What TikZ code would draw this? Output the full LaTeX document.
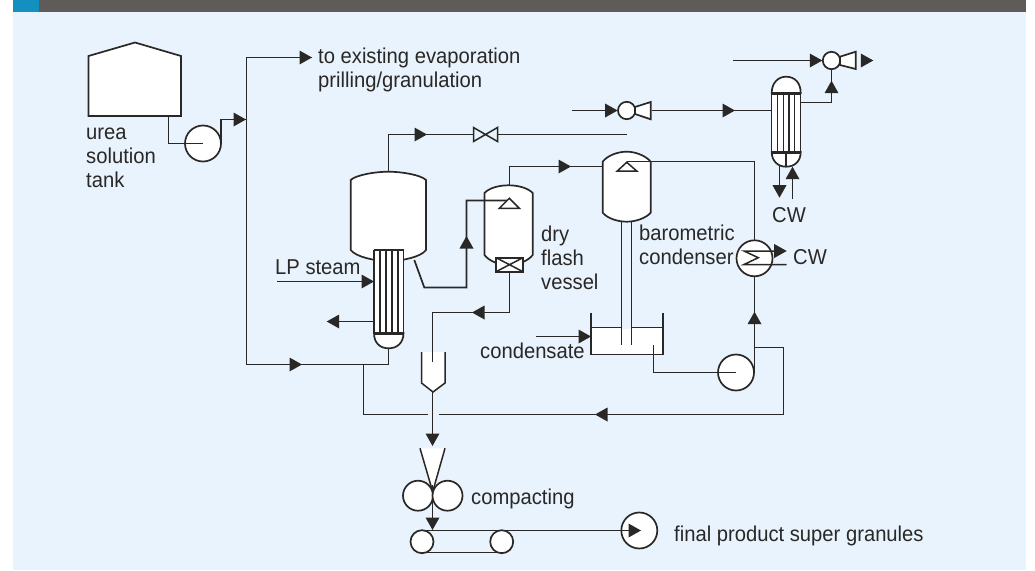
\documentclass[tikz,border=0pt]{standalone}
\usepackage{fontspec}
\setmainfont[FakeStretch=0.94]{Liberation Sans}
\definecolor{bgblue}{HTML}{E8F3FD}
\definecolor{barblue}{HTML}{1490C0}
\definecolor{bargray}{HTML}{5F5B58}
\definecolor{ink}{HTML}{2A2826}
\tikzset{
  pipe/.style={draw=ink,line width=1.7pt,line join=miter},
  vessel/.style={draw=ink,line width=1.7pt,fill=white},
  tube/.style={draw=ink,line width=1.5pt},
  plate/.style={draw=ink,line width=2.6pt},
  head/.style={fill=ink,draw=none},
  lbl/.style={font=\fontsize{21.5}{24}\selectfont,text=ink,inner sep=0pt,anchor=base west,align=left},
  ring/.style={circle,draw=ink,line width=1.7pt,fill=white,inner sep=0pt,minimum size=#1},
}
\newcommand{\hR}[2]{\fill[head] (#1,#2) -- ++(-12.5,-7) -- ++(0,14) -- cycle;}
\newcommand{\hL}[2]{\fill[head] (#1,#2) -- ++(12.5,-7) -- ++(0,14) -- cycle;}
\newcommand{\hU}[2]{\fill[head] (#1,#2) -- ++(-7,12.5) -- ++(14,0) -- cycle;}
\newcommand{\hD}[2]{\fill[head] (#1,#2) -- ++(-7,-12.5) -- ++(14,0) -- cycle;}
\begin{document}
\begin{tikzpicture}[x=1pt,y=-1pt]
\useasboundingbox (0,0) rectangle (1035,570);
\fill[white] (0,0) rectangle (1035,570);
\fill[bgblue] (13,12) rectangle (1026,570);
\fill[barblue] (13,0) rectangle (39,12);
\fill[bargray] (39,0) rectangle (1026,12);

% --- urea tank, feed pump, main header
\draw[vessel] (88.5,56) -- (135,42.5) -- (181,56) -- (181,116) -- (88.5,116) -- cycle;
\coordinate (tankout) at (168.5,116);
\coordinate (headtop) at (246.5,57.5);
\coordinate (headtee) at (246.5,119.5);
\coordinate (headbot) at (246.5,364.5);
\coordinate (toexist) at (312,57.5);
\node[ring=36pt] (pumpA) at (203,143.5) {};
\draw[pipe] (tankout) |- (pumpA.center);
\draw[pipe] (221,143.5) |- (headtee);
\hR{246}{119.5}
\draw[pipe] (toexist) -- (headtop) -- (headbot);
\hR{312}{57.5}

% --- evaporator
\draw[vessel] (350.7,180) .. controls (356,175) and (375,171.7) .. (388.3,171.7) .. controls (402,171.7) and (421,175) .. (426,180)
  -- (426,250) .. controls (421,257) and (402,261) .. (388.3,261) .. controls (375,261) and (356,257) .. (350.7,250) -- cycle;
\draw[vessel] (374,333) .. controls (374,343) and (380,348.3) .. (388.7,348.3) .. controls (397,348.3) and (403.5,343) .. (403.5,333) -- cycle;
\fill[white] (374,250) rectangle (403.5,333);
\foreach \x in {374,380,386,392,398,403.5} \draw[tube] (\x,250) -- (\x,333);
\draw[plate] (373.5,250) -- (404,250);
\draw[plate] (373.5,333.3) -- (404,333.3);
\coordinate (evaptop) at (388.5,171.7);
\coordinate (evapcorner) at (388.5,134.5);
\coordinate (evapend) at (626.7,134.5);
\coordinate (evapbot) at (388.5,348.3);
\coordinate (evapside) at (414.3,260);
\coordinate (steamin) at (277.3,281.5);
\coordinate (steamout) at (374,281.5);
\coordinate (condout) at (374,321.5);
\coordinate (condend) at (330,321.5);
\draw[pipe] (evaptop) -- (evapcorner) -- (evapend);
\hR{427}{134.5}
\draw[draw=ink,line width=1.5pt,fill=bgblue] (473.5,127.5) -- (497.5,141.5) -- (497.5,127.5) -- (473.5,141.5) -- cycle;
\draw[pipe] (steamin) -- (steamout);
\hR{374}{281.5}
\draw[pipe] (condout) -- (condend);
\hL{326.7}{321.5}
\coordinate (branch) at (363.5,364.5);
\coordinate (ringSW) at (363.5,414.5);
\coordinate (ringSE) at (783.5,414.5);
\coordinate (ringNE) at (783.5,347.5);
\coordinate (ringNW) at (754.5,347.5);
\draw[pipe] (headbot) -- (388.5,364.5) -- (evapbot);
\hR{302}{364.5}
\draw[pipe] (branch) -- (ringSW) -- (427.5,414.5);
\draw[pipe] (438.5,414.5) -- (ringSE) -- (ringNE) -- (ringNW);
\hL{595}{414.5}

% --- dry flash vessel
\draw[vessel] (484.5,193) .. controls (489,188) and (499,185.3) .. (508.6,185.3) .. controls (518,185.3) and (528,188) .. (532.7,193)
  -- (532.7,255) .. controls (528,261) and (518,265) .. (508.6,265) .. controls (499,265) and (489,261) .. (484.5,255) -- cycle;
\draw[pipe] (evapside) -- (424.3,287.5) -- (466.5,287.5) -- (466.5,200.5) -- (509.3,200.5);
\hU{466.5}{236}
\draw[draw=ink,line width=1.5pt,fill=white] (499.3,208.3) -- (509.3,198.3) -- (519.3,208.3) -- cycle;
\draw[vessel] (496,257.7) rectangle (523,271.7);
\draw[tube] (496,257.7) -- (523,271.7) (496,271.7) -- (523,257.7);
\coordinate (flashtop) at (509.5,185.3);
\coordinate (flashbot) at (509.5,271.7);
\coordinate (dropA) at (509.5,312.5);
\coordinate (dropB) at (432.5,312.5);
\coordinate (dropC) at (432.5,361.7);
\coordinate (condin) at (602.7,166.5);
\draw[pipe] (flashtop) |- (condin);
\hR{571}{166.5}
\fill[white] (421.5,352) -- (445,352) -- (445,383) -- (433,392) -- (421.5,383) -- cycle;
\draw[draw=ink,line width=1.5pt] (421.5,352) -- (421.5,383) -- (433,392) -- (445,383) -- (445,352);
\draw[pipe] (flashbot) -- (dropA) -- (dropB) -- (dropC);
\hL{472}{312.5}

% --- barometric condenser
\draw[vessel] (602.7,161.7) .. controls (607,156) and (617,151.7) .. (626.7,151.7) .. controls (636,151.7) and (646,156) .. (650.7,161.7)
  -- (650.7,212.7) .. controls (646,218) and (636,221.7) .. (626.7,221.7) .. controls (617,221.7) and (607,218) .. (602.7,212.7) -- cycle;
\draw[pipe] (626.7,161.5) -- (754.5,161.5) -- (754.5,240);
\draw[draw=ink,line width=1.5pt,fill=white] (617.3,171) -- (626.7,162.3) -- (636.7,171) -- cycle;
\fill[white] (591,327.3) rectangle (662.7,354.3);
\fill[bgblue] (621.7,327) rectangle (631.7,329);
\draw[pipe] (591,312.7) -- (591,354.5) -- (662.7,354.5) -- (662.7,312.7);
\draw[tube] (591,327.5) -- (621.7,327.5) (631.7,327.5) -- (662.7,327.5);
\draw[tube] (621.5,221.7) -- (621.5,345) (631.5,221.7) -- (631.5,345);
\coordinate (condensin) at (536,336.5);
\draw[pipe] (condensin) -- (590,336.5);
\hR{591}{336.5}

% --- circulation pump and cooler
\node[ring=36pt] (pumpB) at (736,372.5) {};
\node[ring=36pt] (coolr) at (754.5,258.3) {};
\draw[pipe] (pumpB.center) -- (653.5,372.5) -- (653.5,345);
\draw[pipe] (754.5,372.5) -- (coolr.south);
\hU{754.5}{311.7}
\draw[tube] (775,251) -- (744,251) -- (758.3,257.7) -- (744,264.5) -- (786.7,264.5);
\hR{786.7}{251}

% --- vacuum ejector stage 1
\coordinate (ej1in) at (571.7,110.5);
\coordinate (ej1out) at (651.7,110.5);
\coordinate (hxin) at (771.7,110.5);
\node[ring=17.4pt] (ej1) at (626.7,110.5) {};
\draw[pipe] (ej1in) -- (ej1.west);
\hR{617.6}{110.5}
\draw[vessel] (635,107) -- (650.7,102) -- (650.7,119.3) -- (635,114) -- cycle;
\draw[pipe] (ej1out) -- (hxin);
\hR{735}{110.5}

% --- small condenser
\draw[vessel] (771.7,93) .. controls (771.7,83) and (778,76.7) .. (786,76.7) .. controls (795,76.7) and (800.7,83) .. (800.7,93) -- cycle;
\draw[vessel] (771.7,152) .. controls (771.7,161) and (778,166.7) .. (786,166.7) .. controls (795,166.7) and (800.7,161) .. (800.7,152) -- cycle;
\fill[white] (771.7,93) rectangle (800.7,152);
\foreach \x in {771.7,777.7,783.3,789,794.7,800.7} \draw[tube] (\x,93) -- (\x,152);
\draw[plate] (771,93.3) -- (801.4,93.3);
\draw[plate] (771,152.3) -- (801.4,152.3);
\draw[tube] (786,152.3) -- (786,166.7);
\coordinate (hxcwout) at (779.5,166);
\coordinate (hxcwin) at (792.5,199);
\coordinate (hxout) at (800.7,102.5);
\draw[pipe] (hxcwout) -- (779.5,190);
\hD{779.5}{197.7}
\draw[pipe] (hxcwin) -- (792.5,170);
\hU{792.5}{166.7}

% --- ejector stage 2
\coordinate (ej2in) at (733.3,60.5);
\node[ring=17.4pt] (ej2) at (831.5,60.5) {};
\draw[pipe] (hxout) -| (ej2.south);
\hU{831.5}{80.7}
\draw[pipe] (ej2in) -- (ej2.west);
\hR{822.3}{60.5}
\draw[vessel] (840,56.7) -- (855.7,51.7) -- (855.7,69) -- (840,65) -- cycle;
\draw[pipe] (861.7,60.5) -- (868,60.5);
\hR{873.3}{60.5}

% --- compacting and belt
\coordinate (gap) at (432.5,392);
\coordinate (chute) at (432.5,440);
\draw[pipe] (gap) -- (chute);
\hD{432.5}{446}
\fill[white] (420,448.3) -- (445,448.3) -- (432.7,491.7) -- cycle;
\node[ring=30pt] (rolA) at (418,495.7) {};
\node[ring=30pt] (rolB) at (447.5,495.7) {};
\draw[draw=ink,line width=1.5pt] (420,448.3) -- (432.7,491.7) -- (445,448.3);
\draw[pipe] (432.5,485) -- (432.5,522);
\hD{432.5}{530}
\node[ring=23pt] (beltA) at (422,541.7) {};
\node[ring=23pt] (beltB) at (501.7,541.7) {};
\node[ring=36pt] (prod) at (639.3,530.5) {};
\coordinate (beltTop) at (422,530.5);
\draw[pipe] (beltTop) -- (prod.center);
\draw[pipe] (422,552.5) -- (501.7,552.5);
\fill[head] (641,530.5) -- ++(-12.5,-7) -- ++(0,14) -- cycle;

% --- labels
\node[lbl] at (318,63) {to existing evaporation};
\node[lbl] at (318,87) {prilling/granulation};
\node[lbl] at (86,139) {urea};
\node[lbl] at (86,163) {solution};
\node[lbl] at (86,187) {tank};
\node[lbl] at (275,274) {LP steam};
\node[lbl] at (541,241) {dry};
\node[lbl] at (541,265) {flash};
\node[lbl] at (541,289) {vessel};
\node[lbl] at (639,240) {barometric};
\node[lbl] at (639,264) {condenser};
\node[lbl] at (793,264) {CW};
\node[lbl] at (772,222) {CW};
\node[lbl] at (480,358) {condensate};
\node[lbl] at (471,504) {compacting};
\node[lbl] at (674,541) {final product super granules};
\end{tikzpicture}
\end{document}
